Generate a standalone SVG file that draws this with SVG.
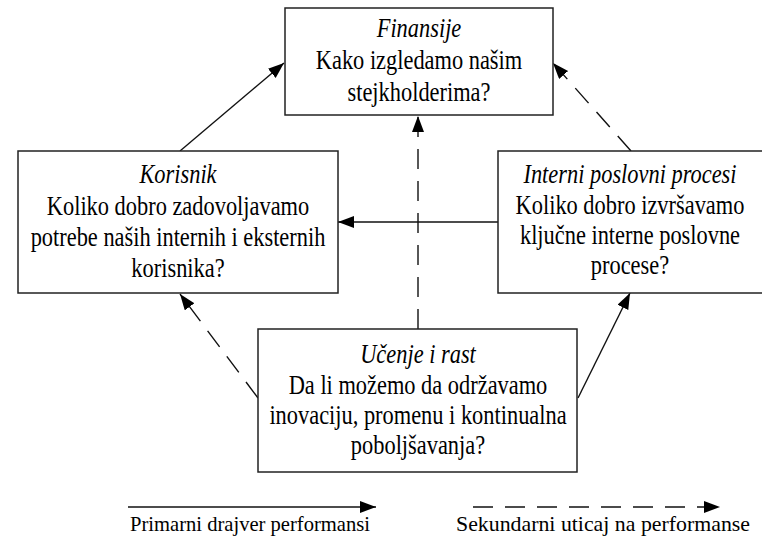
<svg xmlns="http://www.w3.org/2000/svg" width="762" height="539" viewBox="0 0 762 539">
  <style>
    text { font-family: 'Liberation Serif', 'Times New Roman', serif; fill: #000000; text-anchor: middle; }
    .lbl { font-size: 28px; }
    .lgd { font-size: 22px; }
    .it { font-style: italic; }
    .box { fill: #ffffff; stroke: #222222; stroke-width: 1.5; }
    .solid { fill: none; stroke: #111111; stroke-width: 1.4; marker-end: url(#head); }
    .dash { fill: none; stroke: #111111; stroke-width: 1.4; stroke-dasharray: 20 12; marker-end: url(#head); }
  </style>
  <defs>
    <marker id="head" markerUnits="userSpaceOnUse" markerWidth="17" markerHeight="13" refX="16" refY="6" orient="auto">
      <path d="M0,0 L16,6 L0,12 Z" fill="#000000" stroke="none"/>
    </marker>
  </defs>
  <rect width="762" height="539" fill="#ffffff"/>

  <!-- arrows between the four perspectives -->
  <g id="connectors">
    <path class="solid" d="M180,151 L284,63"/>
    <path class="dash" d="M631,151 L553,63"/>
    <path class="dash" d="M418,329 L418,116"/>
    <path class="solid" d="M498,222 L338,222"/>
    <path class="dash" d="M258,398 L180,294"/>
    <path class="solid" d="M578,398 L630,293"/>
  </g>

  <g id="finansije">
    <rect class="box" x="285" y="8" width="268" height="107"/>
    <g transform="translate(419 0) scale(0.8 1)">
      <text class="lbl it" x="0" y="37">Finansije</text>
      <text class="lbl" x="0" y="69">Kako izgledamo našim</text>
      <text class="lbl" x="0" y="101">stejkholderima?</text>
    </g>
  </g>

  <g id="korisnik">
    <rect class="box" x="18" y="151" width="320" height="142"/>
    <g transform="translate(178 0) scale(0.8 1)">
      <text class="lbl it" x="0" y="183">Korisnik</text>
      <text class="lbl" x="0" y="215">Koliko dobro zadovoljavamo</text>
      <text class="lbl" x="0" y="246">potrebe naših internih i eksternih</text>
      <text class="lbl" x="0" y="277">korisnika?</text>
    </g>
  </g>

  <g id="interni">
    <rect class="box" x="498" y="151" width="280" height="142"/>
    <g transform="translate(630 0) scale(0.8 1)">
      <text class="lbl it" x="0" y="183">Interni poslovni procesi</text>
      <text class="lbl" x="0" y="214">Koliko dobro izvršavamo</text>
      <text class="lbl" x="0" y="244">ključne interne poslovne</text>
      <text class="lbl" x="0" y="274">procese?</text>
    </g>
  </g>

  <g id="ucenje">
    <rect class="box" x="258" y="329" width="319" height="143"/>
    <g transform="translate(418 0) scale(0.8 1)">
      <text class="lbl it" x="0" y="363">Učenje i rast</text>
      <text class="lbl" x="0" y="394">Da li možemo da održavamo</text>
      <text class="lbl" x="0" y="424">inovaciju, promenu i kontinualna</text>
      <text class="lbl" x="0" y="454">poboljšavanja?</text>
    </g>
  </g>

  <g id="legend">
    <path class="solid" d="M128,507 L376,507"/>
    <path class="dash" d="M473,507 L720,507"/>
    <text class="lgd" x="250" y="531" textLength="240" lengthAdjust="spacingAndGlyphs">Primarni drajver performansi</text>
    <text class="lgd" x="603" y="531" textLength="294" lengthAdjust="spacingAndGlyphs">Sekundarni uticaj na performanse</text>
  </g>
</svg>
